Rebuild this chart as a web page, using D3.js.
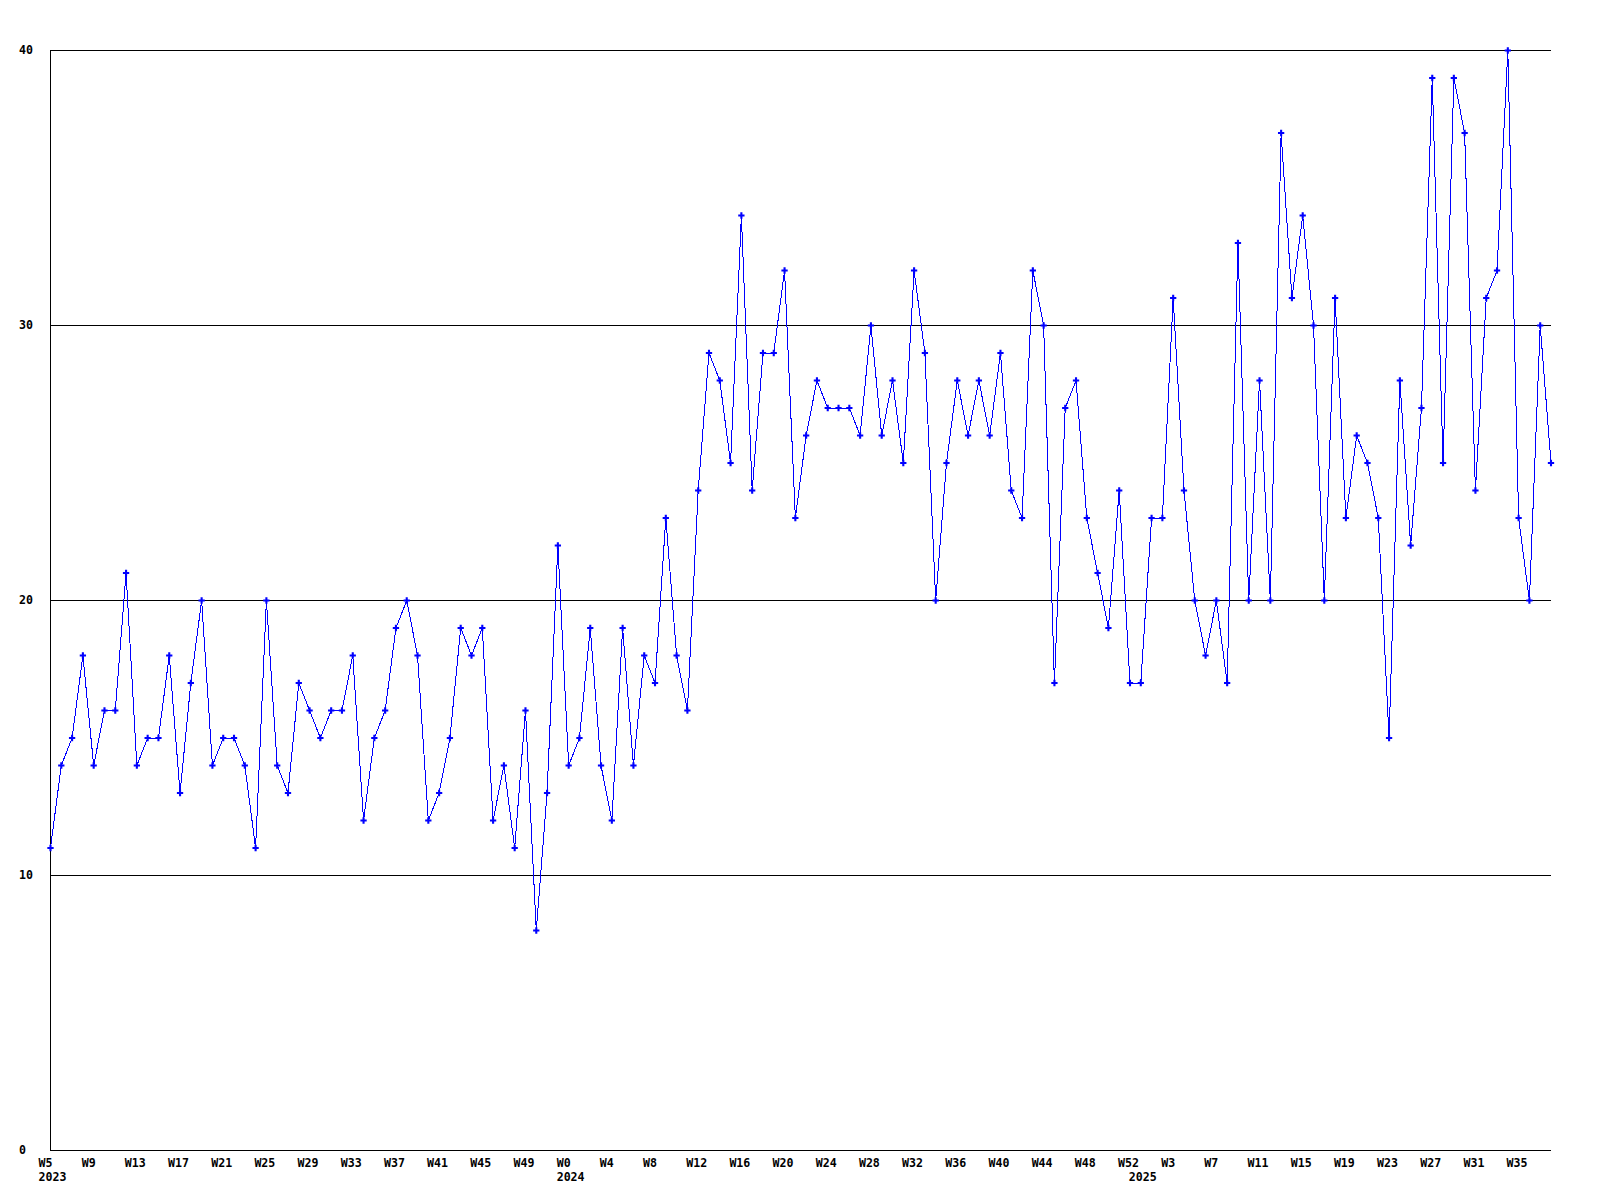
<!DOCTYPE html>
<html>
<head>
<meta charset="utf-8">
<script src="https://cdn.jsdelivr.net/npm/d3@7/dist/d3.min.js"></script>
<style>
  html, body { margin: 0; padding: 0; background: #fff; }
  svg { display: block; }
  text { font-family: "DejaVu Sans Mono", "Liberation Mono", monospace; font-weight: bold; font-size: 11.6px; fill: #000; }
</style>
</head>
<body>
<svg id="chart" width="1600" height="1200"></svg>
<script>
// ---- data ----
const years = [2023, 2024, 2025];
const firstWeek = [5, 0, 0];
const values2023 = [11,14,15,18,14,16,16,21,14,15,15,18,13,17,20,14,15,15,14,11,20,14,13,17,16,15,16,16,18,12,15,16,19,20,18,12,13,15,19,18,19,12,14,11,16,8,13,22];
const values2024 = [14,15,19,14,12,19,14,18,17,23,18,16,24,29,28,25,34,24,29,29,32,23,26,28,27,27,27,26,30,26,28,25,32,29,20,25,28,26,28,26,29,24,23,32,30,17,27,28,23,21,19,24,17];
const values2025 = [17,23,23,31,24,20,18,20,17,33,20,28,20,37,31,34,30,20,31,23,26,25,23,15,28,22,27,39,25,39,37,24,31,32,40,23,20,30,25];
const yTicks = [0, 10, 20, 30, 40];
const tickEvery = 4;

(function () {
  const seriesByYear = [values2023, values2024, values2025];
  const points = [];
  seriesByYear.forEach((vals, yi) => {
    vals.forEach((v, k) => {
      points.push({ year: years[yi], week: firstWeek[yi] + k, value: v, firstOfYear: k === 0 });
    });
  });
  points.forEach((p, i) => p.i = i);

  const svg = d3.select("#chart");
  const pLeft = 50, pRight = 1551, pTop = 50, pBottom = 1150;

  const x = d3.scaleLinear().domain([0, points.length - 1]).range([pLeft + 0.5, pRight]);
  const y = d3.scaleLinear().domain([0, 40]).range([pBottom, pTop]);

  svg.append("g").selectAll("line").data(yTicks).join("line")
    .attr("x1", pLeft).attr("x2", pRight)
    .attr("y1", d => Math.round(y(d)) + 0.5).attr("y2", d => Math.round(y(d)) + 0.5)
    .attr("stroke", "#000").attr("stroke-width", 1)
    .attr("shape-rendering", "crispEdges");

  svg.append("line")
    .attr("x1", pLeft + 0.5).attr("x2", pLeft + 0.5)
    .attr("y1", pTop).attr("y2", pBottom + 1)
    .attr("stroke", "#000").attr("shape-rendering", "crispEdges");

  svg.append("g").selectAll("text").data(yTicks).join("text")
    .attr("x", 19).attr("y", d => y(d) + 4)
    .text(d => d);

  const tickPts = points.filter(p => p.i % tickEvery === 0);
  svg.append("g").selectAll("text").data(tickPts).join("text")
    .attr("x", d => x(d.i) - 12).attr("y", 1167)
    .text(d => "W" + d.week);

  svg.append("g").selectAll("text").data(points.filter(p => p.firstOfYear)).join("text")
    .attr("x", d => x(d.i) - 12).attr("y", 1181)
    .text(d => d.year);

  const line = d3.line().x(d => x(d.i)).y(d => y(d.value) + 0.5);
  svg.append("path").datum(points)
    .attr("d", line)
    .attr("fill", "none").attr("stroke", "#0000ff").attr("stroke-width", 1)
    .attr("shape-rendering", "crispEdges");

  const sym = d3.symbol().type(d3.symbolCross).size(22);
  svg.append("g").selectAll("path").data(points).join("path")
    .attr("transform", d => `translate(${x(d.i)},${y(d.value) + 0.5})`)
    .attr("d", sym)
    .attr("fill", "#0000ff");
})();
</script>
</body>
</html>
